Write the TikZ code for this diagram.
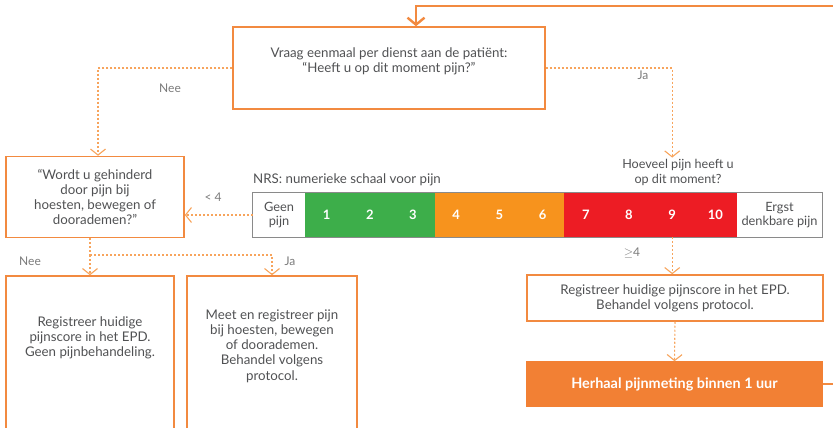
\documentclass[tikz,border=0pt]{standalone}
\usepackage{fontspec}
\setmainfont{Lato}
\usetikzlibrary{arrows.meta,calc}
\definecolor{boxline}{HTML}{F28A40}
\definecolor{flowline}{HTML}{F7A45C}
\definecolor{boxfill}{HTML}{F28034}
\definecolor{txtgray}{HTML}{505153}
\definecolor{lblgray}{HTML}{7A7A7A}
\definecolor{bargray}{HTML}{8A8A8A}
\definecolor{nrsgreen}{HTML}{3DAE4A}
\definecolor{nrsorange}{HTML}{F7931D}
\definecolor{nrsred}{HTML}{ED1C24}
\tikzset{
	box/.style={draw=boxline, line width=1.5pt, rectangle, inner sep=0pt},
	txt/.style={text=txtgray, align=center, inner sep=1pt, font=\fontsize{13.3}{15.2}\selectfont},
	lbl/.style={text=lblgray, inner sep=0pt, font=\fontsize{12}{14}\selectfont},
	cell/.style={rectangle, inner sep=0pt, minimum width=43.2pt, minimum height=44pt, text=white, font=\bfseries\fontsize{13}{15}\selectfont},
	endcell/.style={rectangle, inner sep=0pt, minimum height=44pt, text=txtgray, align=center, font=\fontsize{12.8}{13.5}\selectfont},
	dotline/.style={draw=flowline, line width=1.1pt, dash pattern=on 2pt off 2pt},
	flow/.style={dotline, -{Straight Barb[length=6pt,width=15pt,line width=1.1pt]}},
	loopline/.style={draw=boxline, line width=2.4pt, -{Straight Barb[length=7pt,width=17pt,line width=2.4pt]}}
}

\begin{document}
\begin{tikzpicture}[x=1pt, y=-1pt]
		%%%%% START %%%%%
		\useasboundingbox (0,0) rectangle (833,428);
		
		\node[box, minimum width=312pt, minimum height=82pt] (vraag) at (389,68) {};
		\node[txt] (vraagtxt) at (389,61) {Vraag eenmaal per dienst aan de patiënt:\\“Heeft u op dit moment pijn?”};
		
		\node[box, txt, inner sep=0pt, minimum width=178pt, minimum height=81pt] (wordt) at (95,197) {“Wordt u gehinderd\\door pijn bij\\hoesten, bewegen of\\doorademen?”};
		
		% NRS balk
		\node[txt, anchor=west] (nrs) at (252,180) {NRS: numerieke schaal voor pijn};
		\node[txt, font=\fontsize{12.6}{15}\selectfont] (hoeveel) at (678,172) {Hoeveel pijn heeft u\\op dit moment?};
		\node[endcell, minimum width=52pt] (geen) at (279,215) {Geen\\pijn};
		\foreach \n/\col in {1/nrsgreen,2/nrsgreen,3/nrsgreen,4/nrsorange,5/nrsorange,6/nrsorange,7/nrsred,8/nrsred,9/nrsred,10/nrsred}
			\node[cell, fill=\col] (c\n) at ({305+(\n-0.5)*43.2},215) {\n};
		\node[endcell, minimum width=85pt] (ergst) at (779.5,215) {Ergst\\denkbare pijn};
		\draw[bargray, line width=1.3pt] (geen.north west) rectangle (ergst.south east);
		
		\node[box, txt, inner sep=0pt, minimum width=296pt, minimum height=46pt] (reg) at (675,298) {Registreer huidige pijnscore in het EPD.\\Behandel volgens protocol.};
		\node[box, fill=boxfill, draw=boxfill, minimum width=295pt, minimum height=44pt, text=white, font=\bfseries\fontsize{14.4}{16}\selectfont] (herhaal) at (674.5,384) {Herhaal pijnmeting binnen 1 uur};
		
		\node[box, minimum width=168pt, minimum height=164pt] (nee) at (90,358) {};
		\node[txt] (neetxt) at (90,338) {Registreer huidige\\pijnscore in het EPD.\\Geen pijnbehandeling.};
		\node[box, minimum width=170pt, minimum height=164pt] (ja) at (272,358) {};
		\node[txt] (jatxt) at (272,346) {Meet en registreer pijn\\bij hoesten, bewegen\\of doorademen.\\Behandel volgens\\protocol.};
		
		% verbindingen
		\coordinate (loop) at (416,6);
		\draw[loopline] (herhaal.east) -- ++(40,0) |- (loop) -- (loop |- vraag.north);
		
		\draw[flow] (vraag.west) -| ($(wordt.north)+(3,0)$);
		\draw[flow] (vraag.east) -| (c9.north |- hoeveel.north);
		\draw[flow] (geen.west) -- (geen.west -| wordt.east);
		\draw[flow] (c9.south) -- (c9.south |- reg.north);
		\draw[flow] (reg.south) -- (herhaal.north);
		
		\coordinate (split) at (90,255);
		\draw[dotline] (wordt.south -| split) -- (split);
		\draw[flow] (split) -- (nee.north);
		\draw[flow] (split) -| (ja.north);
		
		\node[lbl] (lnee) at (170,88) {Nee};
		\node[lbl] (lja) at (643,75) {Ja};
		\node[lbl] (lkl) at (213,197) {< 4};
		\node[lbl] (lgr) at (632,253) {$\geq$4};
		\node[lbl] (lnee2) at (30,261) {Nee};
		\node[lbl] (lja2) at (290,261) {Ja};
		%%%%% END %%%%%
	\end{tikzpicture}
\end{document}
